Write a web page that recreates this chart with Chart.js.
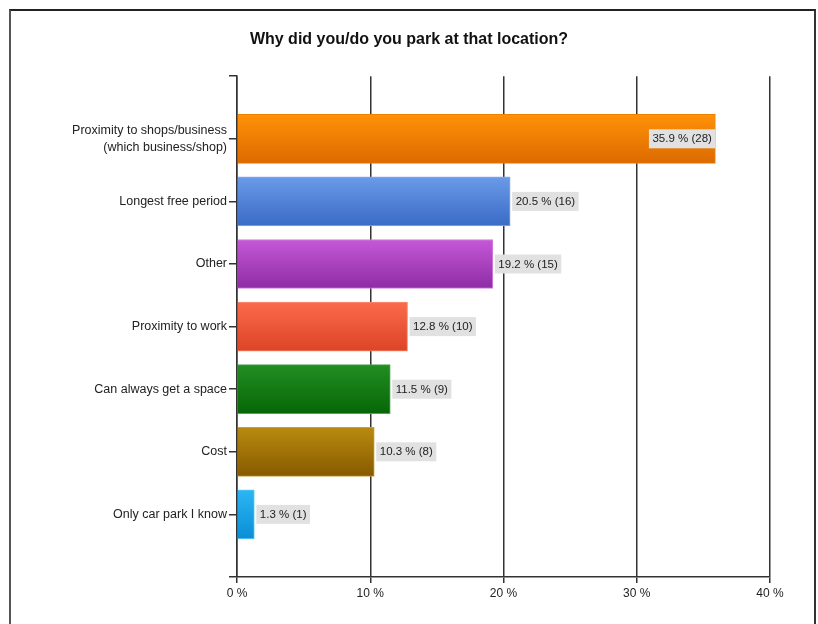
<!DOCTYPE html>
<html>
<head>
<meta charset="utf-8">
<title>Why did you/do you park at that location?</title>
<script src="https://cdn.jsdelivr.net/npm/chart.js@4.4.1/dist/chart.umd.min.js"></script>
<style>
    html, body { margin: 0; padding: 0; background: #fff; overflow: hidden; }
    #wrap { position: relative; width: 818px; height: 624px; }
    #frame {
        position: absolute; left: 9px; top: 9px; width: 803px; height: 640px;
        border-left: 2px solid #555; border-top: 2px solid #222; border-right: 2px solid #333;
    }
    #chart { position: absolute; left: 0; top: 0; }
</style>
</head>
<body>
<div id="wrap">
    <div id="frame"></div>
    <canvas id="chart" width="818" height="624"></canvas>
</div>
<script>
// Respuestas de la encuesta
const categories = [
    ['Proximity to shops/business', '(which business/shop)'],
    'Longest free period',
    'Other',
    'Proximity to work',
    'Can always get a space',
    'Cost',
    'Only car park I know'
];
const percentages = [35.9, 20.5, 19.2, 12.8, 11.5, 10.3, 1.3];
const counts = [28, 16, 15, 10, 9, 8, 1];
const xTicks = [0, 10, 20, 30, 40];

// Colores de cada barra (arriba / abajo del degradado)
const topColors = ['#ff9208', '#6a9ae8', '#c658d8', '#fb6a4c', '#238e23', '#b98a10', '#2cb6f4'];
const bottomColors = ['#dc6a00', '#3a6bc6', '#8e2ca4', '#dc4426', '#066606', '#875a00', '#0a8ed6'];
const borderColors = ['#f08000', '#86adee', '#d27ee0', '#fc8a70', '#4ea64e', '#c9a040', '#60c8f6'];

const BAR_SIZE = 49;
const FONT = '"Liberation Sans", Arial, sans-serif';

// Se añade una categoría vacía arriba y abajo para dejar margen
const labels = [''].concat(categories, ['']);
const values = [null].concat(percentages, [null]);

function barGradient(context) {
    const chart = context.chart;
    const yScale = chart.scales.y;
    const i = context.dataIndex - 1;
    if (!yScale || i < 0 || i >= topColors.length) return topColors[0];
    const yc = yScale.getPixelForValue(context.dataIndex);
    const g = chart.ctx.createLinearGradient(0, yc - BAR_SIZE / 2, 0, yc + BAR_SIZE / 2);
    g.addColorStop(0, topColors[i]);
    g.addColorStop(1, bottomColors[i]);
    return g;
}

// Etiquetas de valor con fondo gris
const valueLabels = {
    id: 'valueLabels',
    afterDatasetsDraw(chart) {
        const ctx = chart.ctx;
        const area = chart.chartArea;
        const meta = chart.getDatasetMeta(0);
        ctx.save();
        ctx.font = '11.5px ' + FONT;
        ctx.textBaseline = 'middle';
        meta.data.forEach(function(bar, idx) {
            const i = idx - 1;
            if (i < 0 || i >= percentages.length) return;
            const text = percentages[i].toFixed(1) + ' % (' + counts[i] + ')';
            const w = ctx.measureText(text).width + 7;
            const h = 19;
            let x = bar.x + 2;
            if (x + w > area.right) x = bar.x - w;
            ctx.fillStyle = '#e1e1e1';
            ctx.fillRect(x, bar.y - h / 2, w, h);
            ctx.fillStyle = '#222';
            ctx.fillText(text, x + 3.5, bar.y + 0.5);
        });
        ctx.restore();
    }
};

new Chart(document.getElementById('chart'), {
    type: 'bar',
    data: {
        labels: labels,
        datasets: [{
            data: values,
            backgroundColor: barGradient,
            borderColor: ctx => borderColors[Math.max(0, ctx.dataIndex - 1)] || '#fff',
            borderWidth: { top: 1, bottom: 1, right: 1, left: 0 },
            borderSkipped: 'start',
            barThickness: BAR_SIZE
        }]
    },
    options: {
        indexAxis: 'y',
        responsive: false,
        animation: false,
        layout: { padding: 0 },
        plugins: {
            legend: { display: false },
            tooltip: { enabled: false },
            title: {
                display: true,
                text: 'Why did you/do you park at that location?',
                color: '#111',
                font: { family: FONT, size: 16, weight: 'bold' },
                padding: { top: 30, bottom: 27 }
            }
        },
        scales: {
            x: {
                type: 'linear',
                min: 0,
                max: 40,
                afterBuildTicks: scale => { scale.ticks = xTicks.map(v => ({ value: v })); },
                afterFit: scale => { scale.height = 47; },
                ticks: {
                    color: '#222',
                    padding: 3,
                    font: { family: FONT, size: 12 },
                    callback: v => v + ' %'
                },
                grid: { color: '#333', lineWidth: 1.5, tickLength: 6 },
                border: { display: true, color: '#333', width: 1.5 }
            },
            y: {
                offset: false,
                afterFit: scale => { scale.width = 237; },
                ticks: {
                    color: '#222',
                    padding: 2,
                    autoSkip: false,
                    font: { family: FONT, size: 12.5, lineHeight: 1.36 }
                },
                grid: { offset: false, drawOnChartArea: false, color: '#333', lineWidth: 1.5, tickLength: 8 },
                border: { display: true, color: '#333', width: 1.5 }
            },
            // eje vacío a la derecha: solo reserva el margen derecho
            yRight: {
                position: 'right',
                display: true,
                afterFit: scale => { scale.width = 48; },
                ticks: { display: false },
                grid: { display: false },
                border: { display: false }
            }
        }
    },
    plugins: [valueLabels]
});
</script>
</body>
</html>
